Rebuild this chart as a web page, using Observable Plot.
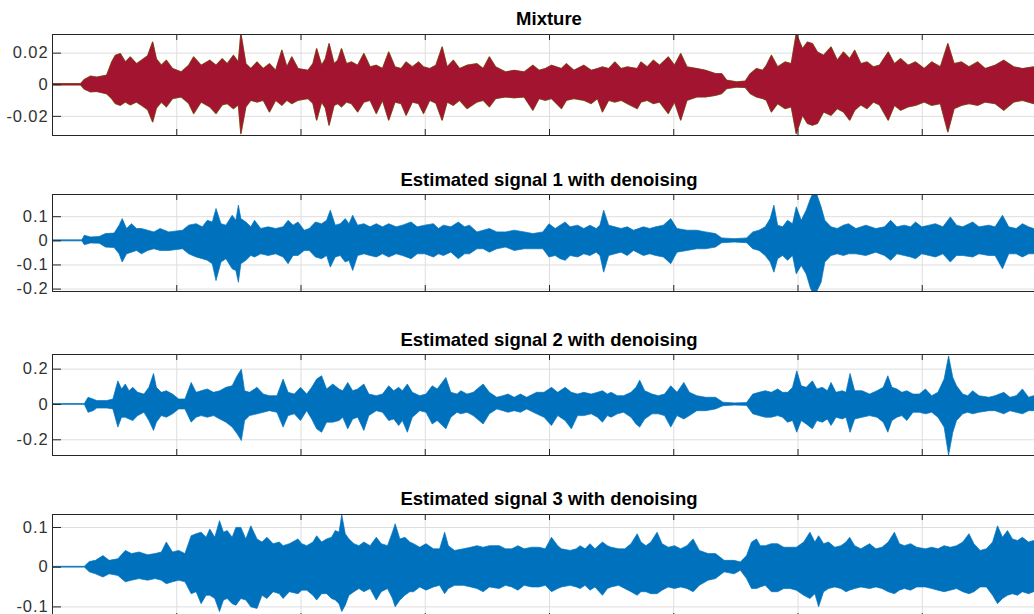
<!DOCTYPE html>
<html><head><meta charset="utf-8">
<script src="https://cdn.jsdelivr.net/npm/d3@7"></script>
<script src="https://cdn.jsdelivr.net/npm/@observablehq/plot@0.6"></script>
<style>
html,body{margin:0;padding:0;background:#fff;overflow:hidden;width:1034px;height:614px;}
#wrap{position:relative;width:1034px;height:614px;overflow:hidden;}
.panel{position:absolute;left:0;width:1048px;}
.panel svg text{font-size:16.5px !important;letter-spacing:0.9px;font-family:"Liberation Sans",Arial,Helvetica,sans-serif !important;}
.title{position:absolute;left:0;width:1098px;text-align:center;font:bold 18.5px "Liberation Sans",Arial,Helvetica,sans-serif;line-height:20px;color:#000;white-space:nowrap;}
</style></head><body><div id="wrap"></div>
<script>
// Panel titles
const titles = ["Mixture", "Estimated signal 1 with denoising", "Estimated signal 2 with denoising", "Estimated signal 3 with denoising"];
// x grid (one unit = one grid interval; x tick labels are hidden)
const xGrid = [1, 2, 3, 4, 5, 6, 7];
// y ticks and labels per panel
const yTicks = [[-0.02, 0, 0.02], [-0.2, -0.1, 0, 0.1], [-0.2, 0, 0.2], [-0.1, 0, 0.1]];
const yLabels = [["-0.02", "0", "0.02"], ["-0.2", "-0.1", "0", "0.1"], ["-0.2", "0", "0.2"], ["-0.1", "0", "0.1"]];

// Envelopes: [x, upper, lower]
const mixture = [[0,0.0004,-0.0004],[0.23,0.0004,-0.0004],[0.26,0.003,-0.003],[0.31,0.0051,-0.0048],[0.36,0.0045,-0.0045],[0.44,0.0057,-0.006],[0.48,0.014,-0.009],[0.51,0.0183,-0.0122],[0.55,0.0194,-0.0133],[0.59,0.0141,-0.0112],[0.63,0.0173,-0.013],[0.68,0.013,-0.0112],[0.72,0.0152,-0.0133],[0.77,0.018,-0.016],[0.81,0.0267,-0.0238],[0.84,0.016,-0.015],[0.88,0.012,-0.0112],[0.92,0.0152,-0.0143],[0.97,0.0099,-0.009],[1.04,0.0078,-0.008],[1.10,0.012,-0.012],[1.14,0.0173,-0.0185],[1.20,0.012,-0.0112],[1.27,0.0152,-0.0143],[1.32,0.012,-0.0185],[1.37,0.0162,-0.013],[1.41,0.013,-0.0122],[1.46,0.0183,-0.0154],[1.50,0.0141,-0.013],[1.52,0.032,-0.0312],[1.56,0.013,-0.0143],[1.60,0.0099,-0.0101],[1.65,0.0141,-0.0112],[1.70,0.0099,-0.0101],[1.75,0.013,-0.0175],[1.80,0.0088,-0.0101],[1.85,0.0215,-0.0133],[1.89,0.011,-0.0101],[1.93,0.0173,-0.0122],[1.98,0.0099,-0.0101],[2.06,0.0088,-0.009],[2.10,0.013,-0.012],[2.13,0.0225,-0.0227],[2.17,0.012,-0.0112],[2.20,0.016,-0.015],[2.23,0.0257,-0.0259],[2.27,0.013,-0.0133],[2.30,0.0152,-0.0122],[2.33,0.0225,-0.0143],[2.37,0.013,-0.0112],[2.41,0.0141,-0.0122],[2.46,0.012,-0.0175],[2.51,0.0194,-0.0112],[2.56,0.011,-0.0101],[2.61,0.012,-0.0185],[2.66,0.0099,-0.0101],[2.71,0.0204,-0.0227],[2.76,0.011,-0.0112],[2.81,0.0099,-0.0122],[2.85,0.0141,-0.0196],[2.90,0.011,-0.0112],[2.95,0.0141,-0.0122],[2.99,0.011,-0.0185],[3.04,0.0099,-0.0101],[3.09,0.012,-0.012],[3.14,0.0236,-0.0227],[3.18,0.011,-0.0112],[3.23,0.0152,-0.0133],[3.28,0.0099,-0.0101],[3.34,0.012,-0.0154],[3.42,0.013,-0.0112],[3.47,0.0099,-0.0101],[3.52,0.0173,-0.0143],[3.57,0.011,-0.009],[3.65,0.0078,-0.008],[3.72,0.0088,-0.0085],[3.80,0.0078,-0.008],[3.87,0.012,-0.0164],[3.92,0.0088,-0.009],[3.97,0.0099,-0.0101],[4.02,0.012,-0.009],[4.10,0.0099,-0.0154],[4.14,0.013,-0.0101],[4.20,0.0088,-0.009],[4.28,0.012,-0.0101],[4.34,0.0088,-0.0122],[4.39,0.0099,-0.009],[4.43,0.011,-0.0175],[4.48,0.0099,-0.0101],[4.53,0.0141,-0.0112],[4.58,0.0099,-0.0101],[4.63,0.011,-0.0122],[4.71,0.0099,-0.0154],[4.74,0.0141,-0.0112],[4.79,0.011,-0.0101],[4.84,0.0152,-0.0122],[4.89,0.012,-0.0112],[4.96,0.0173,-0.0185],[5.01,0.012,-0.0112],[5.06,0.0194,-0.0227],[5.11,0.011,-0.0101],[5.19,0.0099,-0.008],[5.26,0.0088,-0.008],[5.34,0.0067,-0.007],[5.39,0.0067,-0.0059],[5.43,0.0025,-0.0027],[5.51,0.0015,-0.0017],[5.58,0.002,-0.002],[5.62,0.0067,-0.0059],[5.67,0.0099,-0.008],[5.72,0.0088,-0.009],[5.75,0.012,-0.0101],[5.79,0.0183,-0.0175],[5.84,0.011,-0.0122],[5.90,0.0141,-0.0154],[5.95,0.013,-0.0143],[5.99,0.032,-0.0312],[6.04,0.0225,-0.0196],[6.08,0.0267,-0.0248],[6.12,0.0257,-0.0259],[6.16,0.0204,-0.0248],[6.21,0.0183,-0.0175],[6.27,0.0236,-0.0196],[6.32,0.0152,-0.0154],[6.37,0.0204,-0.0175],[6.42,0.0162,-0.0227],[6.46,0.0215,-0.0164],[6.51,0.013,-0.013],[6.56,0.0141,-0.0154],[6.61,0.011,-0.0112],[6.66,0.012,-0.013],[6.73,0.0204,-0.0227],[6.78,0.013,-0.0133],[6.83,0.0162,-0.0164],[6.89,0.012,-0.0143],[6.95,0.0141,-0.0133],[7.02,0.0099,-0.0112],[7.08,0.0141,-0.0133],[7.15,0.011,-0.0122],[7.21,0.0257,-0.0301],[7.26,0.013,-0.0154],[7.32,0.0141,-0.0133],[7.38,0.011,-0.0122],[7.45,0.0141,-0.0133],[7.51,0.0099,-0.0112],[7.59,0.012,-0.0122],[7.66,0.0152,-0.0164],[7.74,0.011,-0.0112],[7.81,0.0099,-0.0101],[7.90,0.011,-0.0122],[8.0,0.0099,-0.0101]];

const signal1 = [[0,0.002,-0.002],[0.24,0.002,-0.002],[0.26,0.021,-0.018],[0.31,0.014,-0.011],[0.38,0.016,-0.012],[0.43,0.028,-0.028],[0.50,0.03,-0.03],[0.54,0.063,-0.056],[0.565,0.09,-0.09],[0.60,0.049,-0.056],[0.64,0.069,-0.049],[0.68,0.049,-0.042],[0.72,0.049,-0.056],[0.77,0.042,-0.042],[0.82,0.035,-0.035],[0.87,0.049,-0.042],[0.94,0.035,-0.042],[1.05,0.042,-0.035],[1.10,0.063,-0.056],[1.16,0.069,-0.069],[1.21,0.056,-0.076],[1.25,0.083,-0.083],[1.29,0.076,-0.097],[1.32,0.132,-0.167],[1.36,0.069,-0.09],[1.40,0.063,-0.076],[1.45,0.104,-0.118],[1.48,0.083,-0.125],[1.50,0.146,-0.174],[1.52,0.09,-0.097],[1.56,0.076,-0.083],[1.60,0.056,-0.063],[1.63,0.083,-0.069],[1.68,0.049,-0.056],[1.74,0.056,-0.063],[1.80,0.049,-0.056],[1.86,0.056,-0.069],[1.90,0.083,-0.097],[1.94,0.063,-0.063],[1.98,0.076,-0.063],[2.03,0.042,-0.042],[2.07,0.049,-0.042],[2.12,0.076,-0.069],[2.17,0.069,-0.076],[2.21,0.083,-0.063],[2.24,0.125,-0.111],[2.28,0.063,-0.069],[2.32,0.069,-0.063],[2.36,0.09,-0.09],[2.39,0.069,-0.083],[2.42,0.104,-0.125],[2.46,0.063,-0.063],[2.51,0.069,-0.056],[2.56,0.056,-0.063],[2.61,0.069,-0.069],[2.66,0.056,-0.056],[2.71,0.069,-0.069],[2.77,0.056,-0.056],[2.82,0.063,-0.063],[2.89,0.076,-0.076],[2.94,0.056,-0.056],[3.00,0.063,-0.056],[3.07,0.069,-0.069],[3.11,0.049,-0.056],[3.15,0.063,-0.063],[3.21,0.056,-0.049],[3.27,0.076,-0.076],[3.32,0.056,-0.056],[3.36,0.063,-0.056],[3.42,0.035,-0.035],[3.47,0.042,-0.035],[3.52,0.049,-0.049],[3.58,0.035,-0.035],[3.65,0.035,-0.028],[3.72,0.042,-0.042],[3.80,0.035,-0.035],[3.87,0.028,-0.035],[3.95,0.035,-0.035],[4.00,0.069,-0.069],[4.05,0.049,-0.063],[4.09,0.063,-0.076],[4.13,0.076,-0.083],[4.17,0.056,-0.063],[4.23,0.063,-0.069],[4.28,0.049,-0.056],[4.33,0.063,-0.063],[4.38,0.049,-0.049],[4.41,0.063,-0.063],[4.44,0.125,-0.132],[4.48,0.063,-0.063],[4.53,0.056,-0.056],[4.58,0.049,-0.049],[4.63,0.056,-0.063],[4.68,0.042,-0.042],[4.76,0.056,-0.063],[4.81,0.049,-0.056],[4.86,0.056,-0.063],[4.92,0.063,-0.069],[4.98,0.09,-0.097],[5.03,0.049,-0.049],[5.11,0.042,-0.042],[5.19,0.042,-0.035],[5.26,0.035,-0.035],[5.34,0.028,-0.028],[5.39,0.01,-0.01],[5.49,0.007,-0.007],[5.59,0.01,-0.01],[5.64,0.035,-0.035],[5.69,0.042,-0.042],[5.74,0.056,-0.063],[5.78,0.09,-0.09],[5.81,0.146,-0.132],[5.84,0.063,-0.076],[5.88,0.056,-0.063],[5.92,0.083,-0.083],[5.96,0.069,-0.063],[5.99,0.139,-0.139],[6.03,0.083,-0.104],[6.07,0.125,-0.14],[6.105,0.174,-0.2],[6.13,0.2,-0.222],[6.156,0.19,-0.21],[6.19,0.139,-0.174],[6.22,0.083,-0.09],[6.27,0.056,-0.063],[6.32,0.049,-0.056],[6.37,0.063,-0.063],[6.41,0.069,-0.056],[6.47,0.049,-0.056],[6.55,0.063,-0.063],[6.63,0.049,-0.049],[6.70,0.056,-0.063],[6.75,0.083,-0.083],[6.80,0.056,-0.056],[6.86,0.063,-0.063],[6.91,0.056,-0.069],[6.95,0.076,-0.076],[7.00,0.056,-0.056],[7.06,0.063,-0.063],[7.11,0.069,-0.069],[7.17,0.056,-0.056],[7.23,0.097,-0.09],[7.28,0.063,-0.063],[7.33,0.056,-0.063],[7.41,0.076,-0.069],[7.46,0.056,-0.056],[7.54,0.063,-0.063],[7.59,0.056,-0.063],[7.65,0.104,-0.118],[7.70,0.056,-0.056],[7.76,0.049,-0.056],[7.81,0.069,-0.069],[7.86,0.056,-0.056],[7.90,0.049,-0.056],[8.0,0.056,-0.056]];

const signal2 = [[0,0.002,-0.002],[0.26,0.002,-0.002],[0.29,0.038,-0.047],[0.33,0.028,-0.038],[0.36,0.019,-0.023],[0.44,0.019,-0.023],[0.49,0.028,-0.028],[0.53,0.131,-0.131],[0.56,0.085,-0.075],[0.59,0.113,-0.075],[0.62,0.075,-0.085],[0.65,0.094,-0.094],[0.69,0.066,-0.066],[0.74,0.056,-0.047],[0.78,0.094,-0.094],[0.817,0.173,-0.15],[0.84,0.094,-0.103],[0.88,0.066,-0.066],[0.92,0.075,-0.075],[0.97,0.056,-0.056],[1.02,0.028,-0.028],[1.07,0.028,-0.028],[1.12,0.122,-0.103],[1.16,0.066,-0.075],[1.20,0.075,-0.066],[1.25,0.085,-0.075],[1.30,0.066,-0.066],[1.35,0.075,-0.085],[1.40,0.094,-0.103],[1.45,0.103,-0.131],[1.49,0.16,-0.169],[1.524,0.197,-0.207],[1.55,0.075,-0.094],[1.59,0.066,-0.066],[1.65,0.094,-0.056],[1.70,0.056,-0.047],[1.75,0.047,-0.038],[1.81,0.047,-0.047],[1.86,0.141,-0.131],[1.90,0.066,-0.066],[1.95,0.056,-0.056],[2.00,0.094,-0.094],[2.05,0.056,-0.038],[2.09,0.094,-0.085],[2.13,0.141,-0.141],[2.17,0.16,-0.16],[2.21,0.085,-0.103],[2.26,0.113,-0.103],[2.31,0.085,-0.094],[2.34,0.075,-0.075],[2.38,0.122,-0.141],[2.42,0.075,-0.085],[2.46,0.085,-0.075],[2.51,0.113,-0.15],[2.55,0.056,-0.066],[2.61,0.047,-0.038],[2.66,0.056,-0.047],[2.71,0.103,-0.094],[2.75,0.075,-0.085],[2.79,0.094,-0.122],[2.82,0.075,-0.094],[2.86,0.113,-0.16],[2.90,0.066,-0.075],[2.96,0.047,-0.038],[3.01,0.056,-0.047],[3.06,0.103,-0.113],[3.10,0.085,-0.094],[3.17,0.15,-0.141],[3.21,0.066,-0.075],[3.26,0.056,-0.047],[3.29,0.075,-0.056],[3.34,0.056,-0.047],[3.39,0.066,-0.066],[3.47,0.113,-0.113],[3.52,0.066,-0.056],[3.58,0.038,-0.028],[3.63,0.047,-0.038],[3.67,0.056,-0.047],[3.72,0.038,-0.038],[3.77,0.056,-0.047],[3.82,0.038,-0.028],[3.90,0.066,-0.056],[3.96,0.066,-0.075],[4.02,0.094,-0.122],[4.07,0.066,-0.066],[4.13,0.094,-0.094],[4.18,0.066,-0.141],[4.23,0.056,-0.066],[4.28,0.066,-0.066],[4.34,0.056,-0.056],[4.39,0.066,-0.075],[4.43,0.075,-0.103],[4.47,0.056,-0.066],[4.50,0.066,-0.075],[4.55,0.047,-0.056],[4.60,0.047,-0.047],[4.66,0.066,-0.075],[4.70,0.094,-0.113],[4.73,0.135,-0.131],[4.77,0.075,-0.085],[4.83,0.056,-0.056],[4.88,0.047,-0.056],[4.93,0.056,-0.066],[4.98,0.103,-0.131],[5.03,0.066,-0.066],[5.085,0.122,-0.085],[5.13,0.066,-0.066],[5.19,0.047,-0.038],[5.26,0.038,-0.038],[5.34,0.038,-0.028],[5.40,0.01,-0.01],[5.49,0.006,-0.006],[5.59,0.008,-0.008],[5.64,0.056,-0.056],[5.69,0.066,-0.066],[5.74,0.075,-0.075],[5.79,0.066,-0.075],[5.84,0.085,-0.066],[5.88,0.066,-0.075],[5.92,0.066,-0.103],[5.96,0.094,-0.094],[5.994,0.188,-0.16],[6.03,0.103,-0.094],[6.07,0.094,-0.113],[6.12,0.131,-0.141],[6.156,0.085,-0.094],[6.20,0.094,-0.103],[6.24,0.075,-0.085],[6.27,0.122,-0.122],[6.31,0.066,-0.075],[6.36,0.075,-0.085],[6.39,0.066,-0.075],[6.423,0.173,-0.16],[6.46,0.075,-0.085],[6.52,0.075,-0.075],[6.58,0.056,-0.066],[6.64,0.075,-0.075],[6.69,0.094,-0.103],[6.727,0.16,-0.16],[6.76,0.094,-0.094],[6.80,0.085,-0.075],[6.84,0.066,-0.066],[6.88,0.075,-0.094],[6.93,0.056,-0.047],[6.98,0.056,-0.047],[7.03,0.085,-0.056],[7.08,0.047,-0.047],[7.13,0.066,-0.075],[7.18,0.141,-0.131],[7.216,0.272,-0.29],[7.25,0.15,-0.16],[7.28,0.103,-0.094],[7.33,0.056,-0.056],[7.37,0.047,-0.047],[7.41,0.075,-0.056],[7.46,0.047,-0.047],[7.54,0.038,-0.038],[7.59,0.047,-0.038],[7.66,0.066,-0.056],[7.71,0.038,-0.038],[7.76,0.047,-0.047],[7.81,0.085,-0.056],[7.86,0.038,-0.038],[7.90,0.047,-0.038],[8.0,0.038,-0.038]];

const signal3 = [[0,0.001,-0.001],[0.26,0.001,-0.001],[0.30,0.013,-0.013],[0.35,0.016,-0.018],[0.41,0.028,-0.026],[0.46,0.016,-0.018],[0.53,0.02,-0.022],[0.59,0.041,-0.038],[0.64,0.033,-0.034],[0.70,0.037,-0.03],[0.77,0.03,-0.034],[0.83,0.033,-0.03],[0.88,0.037,-0.034],[0.92,0.062,-0.043],[0.97,0.037,-0.038],[1.02,0.041,-0.034],[1.07,0.033,-0.038],[1.12,0.078,-0.068],[1.16,0.083,-0.063],[1.20,0.087,-0.093],[1.24,0.074,-0.072],[1.27,0.095,-0.072],[1.31,0.074,-0.08],[1.348,0.116,-0.113],[1.38,0.087,-0.084],[1.41,0.091,-0.08],[1.45,0.074,-0.093],[1.48,0.099,-0.097],[1.52,0.099,-0.08],[1.56,0.07,-0.084],[1.60,0.103,-0.101],[1.65,0.07,-0.105],[1.69,0.062,-0.072],[1.73,0.074,-0.08],[1.78,0.058,-0.063],[1.83,0.062,-0.068],[1.86,0.053,-0.08],[1.91,0.058,-0.063],[1.98,0.07,-0.068],[2.01,0.058,-0.059],[2.05,0.053,-0.059],[2.10,0.062,-0.072],[2.13,0.078,-0.084],[2.17,0.062,-0.068],[2.21,0.07,-0.068],[2.25,0.074,-0.08],[2.28,0.091,-0.084],[2.31,0.087,-0.093],[2.332,0.131,-0.113],[2.36,0.083,-0.097],[2.39,0.07,-0.072],[2.43,0.058,-0.063],[2.47,0.053,-0.055],[2.51,0.062,-0.063],[2.56,0.053,-0.055],[2.61,0.074,-0.084],[2.65,0.058,-0.063],[2.70,0.053,-0.055],[2.74,0.087,-0.08],[2.762,0.108,-0.101],[2.80,0.07,-0.084],[2.84,0.074,-0.072],[2.88,0.062,-0.063],[2.91,0.058,-0.063],[2.96,0.049,-0.051],[3.01,0.058,-0.059],[3.07,0.045,-0.051],[3.12,0.045,-0.047],[3.16,0.087,-0.068],[3.19,0.053,-0.055],[3.24,0.041,-0.047],[3.31,0.045,-0.047],[3.37,0.049,-0.051],[3.42,0.053,-0.055],[3.47,0.049,-0.063],[3.52,0.053,-0.051],[3.60,0.053,-0.055],[3.65,0.045,-0.047],[3.70,0.045,-0.051],[3.75,0.053,-0.059],[3.80,0.045,-0.047],[3.86,0.049,-0.051],[3.92,0.049,-0.051],[3.97,0.045,-0.047],[4.02,0.074,-0.063],[4.07,0.053,-0.055],[4.10,0.045,-0.051],[4.17,0.041,-0.047],[4.22,0.045,-0.051],[4.25,0.053,-0.055],[4.29,0.045,-0.047],[4.33,0.058,-0.059],[4.37,0.045,-0.051],[4.43,0.062,-0.072],[4.47,0.053,-0.055],[4.50,0.049,-0.051],[4.56,0.045,-0.047],[4.61,0.045,-0.055],[4.66,0.058,-0.063],[4.71,0.083,-0.072],[4.74,0.062,-0.063],[4.78,0.053,-0.063],[4.82,0.062,-0.068],[4.87,0.087,-0.068],[4.91,0.058,-0.059],[4.96,0.049,-0.051],[5.01,0.053,-0.055],[5.06,0.045,-0.051],[5.11,0.053,-0.055],[5.16,0.07,-0.063],[5.21,0.041,-0.047],[5.28,0.033,-0.034],[5.34,0.033,-0.03],[5.41,0.016,-0.013],[5.49,0.016,-0.018],[5.54,0.012,-0.009],[5.59,0.028,-0.03],[5.63,0.062,-0.055],[5.67,0.07,-0.055],[5.70,0.053,-0.051],[5.74,0.053,-0.047],[5.79,0.058,-0.063],[5.84,0.058,-0.063],[5.89,0.049,-0.055],[5.94,0.049,-0.055],[5.99,0.049,-0.059],[6.05,0.062,-0.072],[6.10,0.087,-0.08],[6.14,0.062,-0.068],[6.17,0.078,-0.101],[6.21,0.058,-0.063],[6.25,0.062,-0.055],[6.30,0.049,-0.051],[6.35,0.053,-0.055],[6.39,0.062,-0.063],[6.42,0.074,-0.059],[6.46,0.053,-0.055],[6.51,0.045,-0.051],[6.58,0.058,-0.055],[6.63,0.045,-0.051],[6.68,0.049,-0.055],[6.73,0.062,-0.063],[6.78,0.087,-0.068],[6.82,0.058,-0.059],[6.86,0.053,-0.055],[6.91,0.058,-0.059],[6.96,0.049,-0.051],[7.03,0.045,-0.051],[7.08,0.049,-0.055],[7.13,0.045,-0.059],[7.18,0.053,-0.063],[7.23,0.049,-0.059],[7.28,0.053,-0.055],[7.33,0.062,-0.063],[7.38,0.083,-0.068],[7.42,0.058,-0.063],[7.47,0.041,-0.051],[7.52,0.045,-0.051],[7.57,0.062,-0.072],[7.61,0.103,-0.093],[7.65,0.074,-0.08],[7.69,0.091,-0.072],[7.73,0.07,-0.068],[7.77,0.066,-0.072],[7.81,0.074,-0.063],[7.86,0.062,-0.068],[7.90,0.066,-0.063],[8.0,0.062,-0.063]];

const series = [mixture, signal1, signal2, signal3];
const seriesColors = ["#A2142F", "#0072BD", "#0072BD", "#0072BD"];
const underColors = ["#77AC30", null, null, null];

// Layout (page pixels)
const frames = [[34, 135], [194, 291], [354, 455], [514, 619]];
const yDomains = [[-0.0321, 0.0318], [-0.210, 0.192], [-0.289, 0.283], [-0.1317, 0.1327]];
const titleTops = [9, 170, 330, 489];

const wrap = document.getElementById("wrap");
const M = 3, W = 1048, ML = 52, MR = 2;
const xPerPx = 8 / (W - ML - MR);

series.forEach((rows, i) => {
  const [top, bottom] = frames[i];
  const H = bottom - top;
  const data = rows.map(([t, hi, lo]) => ({t, hi, lo}));
  const ticks = yTicks[i];
  const labels = yLabels[i];
  const marks = [
    Plot.ruleY(ticks, {y: d => d, stroke: "#dedede", strokeWidth: 1}),
    Plot.ruleX(xGrid, {x: d => d, stroke: "#dedede", strokeWidth: 1})
  ];
  if (underColors[i]) {
    marks.push(Plot.areaY(data, {x: "t", y1: "lo", y2: "hi", fill: underColors[i], stroke: underColors[i], strokeWidth: 1.4, clip: true}));
  }
  marks.push(Plot.areaY(data, {x: "t", y1: "lo", y2: "hi", fill: seriesColors[i], stroke: seriesColors[i], strokeWidth: 0.7, clip: true}));
  marks.push(Plot.ruleX(xGrid, {x: d => d, stroke: "#262626", insetBottom: H - 6}));
  marks.push(Plot.ruleX(xGrid, {x: d => d, stroke: "#262626", insetTop: H - 6}));
  marks.push(Plot.ruleY(ticks, {y: d => d, x1: 0, x2: 9 * xPerPx, stroke: "#262626"}));
  marks.push(Plot.frame({stroke: "#262626", strokeWidth: 1}));
  marks.push(Plot.axisY({
    ticks,
    tickFormat: d => labels[ticks.indexOf(d)],
    tickSize: 0, tickPadding: 4, fontSize: 16, fill: "#333"
  }));
  const chart = Plot.plot({
    width: W, height: H + 2 * M,
    marginTop: M, marginBottom: M, marginLeft: ML, marginRight: MR,
    x: {domain: [0, 8], axis: null},
    y: {domain: yDomains[i]},
    style: {fontFamily: "'Liberation Sans', Arial, Helvetica, sans-serif", fontSize: "16px", background: "transparent", overflow: "visible"},
    marks
  });
  const div = document.createElement("div");
  div.className = "panel";
  div.style.top = (top - M) + "px";
  div.appendChild(chart);
  wrap.appendChild(div);

  const t = document.createElement("div");
  t.className = "title";
  t.style.top = titleTops[i] + "px";
  t.textContent = titles[i];
  wrap.appendChild(t);
});
</script></body></html>
